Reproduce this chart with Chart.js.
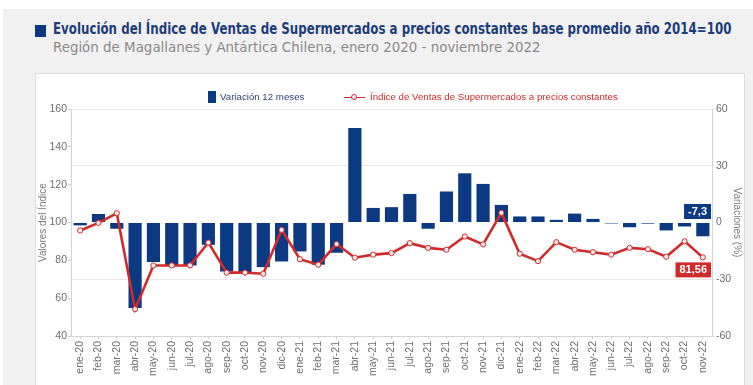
<!DOCTYPE html>
<html>
<head>
<meta charset="utf-8">
<script src="https://cdn.jsdelivr.net/npm/chart.js@4.4.1/dist/chart.umd.min.js"></script>
<style>
  html, body { margin:0; padding:0; }
  body { width:753px; height:385px; background:#fff; position:relative; overflow:hidden; font-family:"DejaVu Sans Condensed", "DejaVu Sans", sans-serif; }
  .page { position:absolute; left:3px; top:9px; right:0; bottom:0; background:#f1f1f1; }
  .bullet { position:absolute; left:35px; top:25px; width:11px; height:12px; background:#0b3a82; }
  .title { position:absolute; left:53px; top:20px; font-size:15px; font-weight:bold; color:#1e3d7b; white-space:nowrap; transform-origin:0 0; }
  .subtitle { position:absolute; left:53px; top:39px; font-size:14.5px; color:#8a8a8a; white-space:nowrap; transform-origin:0 0; }
  .panel { position:absolute; left:35px; top:73px; width:710px; height:330px; background:#fff; border:1px solid #dedede; box-sizing:border-box; }
  #wrap { position:absolute; left:35px; top:73px; width:710px; height:312px; }
  .legend { position:absolute; top:90px; height:14px; font-family:"Liberation Sans", Arial, sans-serif; font-size:9.7px; line-height:14px; white-space:nowrap; }
  .legend .sq { position:absolute; left:0; top:1px; width:8px; height:12px; background:#0b3a82; }
  .legend .ln { position:absolute; left:0; top:6.5px; width:21px; height:1px; background:#d12a2a; }
  .legend .dot { position:absolute; left:7px; top:4px; width:4px; height:4px; border:1px solid #d12a2a; border-radius:50%; background:#fff; }
</style>
</head>
<body>
<div class="page"></div>
<div class="bullet"></div>
<div class="title" id="title">Evolución del Índice de Ventas de Supermercados a precios constantes base promedio año 2014=100</div>
<div class="subtitle" id="subtitle">Región de Magallanes y Antártica Chilena, enero 2020 - noviembre 2022</div>
<div class="panel"></div>
<div id="wrap"><canvas id="chart"></canvas></div>
<div class="legend" style="left:208px"><span class="sq"></span><span style="position:absolute;left:12px;color:#2d4479">Variación 12 meses</span></div>
<div class="legend" style="left:344px"><span class="ln"></span><span class="dot"></span><span style="position:absolute;left:26px;color:#d12a2a">Índice de Ventas de Supermercados a precios constantes</span></div>
<script>
// ====== DATA ======
const meses = ['ene-20','feb-20','mar-20','abr-20','may-20','jun-20','jul-20','ago-20','sep-20','oct-20','nov-20','dic-20',
  'ene-21','feb-21','mar-21','abr-21','may-21','jun-21','jul-21','ago-21','sep-21','oct-21','nov-21','dic-21',
  'ene-22','feb-22','mar-22','abr-22','may-22','jun-22','jul-22','ago-22','sep-22','oct-22','nov-22'];
const variacion12 = [-1.5, 4.5, -3.3, -45.2, -20.9, -22.7, -22.7, -11.8, -25.9, -26.2, -23.6, -20.6,
  -15.3, -22.3, -16.0, 50.0, 7.7, 8.1, 15.1, -3.3, 16.4, 26.0, 20.4, 9.3,
  3.2, 3.2, 1.4, 4.7, 1.9, -0.5, -2.5, -0.6, -4.2, -2.1, -7.3];
const indice = [95.8, 99.8, 104.9, 54.2, 77.3, 77.3, 77.3, 89.4, 73.5, 73.5, 72.9, 96.1,
  80.6, 77.7, 88.6, 81.4, 83.0, 83.8, 89.1, 86.6, 85.6, 92.6, 88.4, 105.1,
  83.5, 79.6, 89.6, 85.6, 84.3, 83.0, 86.6, 85.9, 81.9, 90.1, 81.56];
const ticksIndice = [40, 60, 80, 100, 120, 140, 160];
const ticksVariacion = [-60, -30, 0, 30, 60];

const NAVY = '#0b3a82';
const RED = '#d12a2a';
const TICK = '#6e6e6e';
const FONT = '"Liberation Sans", Arial, sans-serif';

// title & subtitle squeezed to the reference widths
function fitWidth(id, w) {
  const el = document.getElementById(id);
  el.style.transform = 'scaleX(' + (w / el.offsetWidth) + ')';
}
fitWidth('title', 678);
fitWidth('subtitle', 488);

// ====== HELPERS ======
const fmt = v => String(v).replace('.', ',');

function drawBox(ctx, text, right, y, bg) {
  ctx.font = 'bold 11px ' + FONT;
  const w = ctx.measureText(text).width + 8;
  const h = 15;
  ctx.fillStyle = bg;
  ctx.fillRect(right - w, y, w, h);
  ctx.fillStyle = '#fff';
  ctx.textAlign = 'center';
  ctx.textBaseline = 'middle';
  ctx.fillText(text, right - w / 2, y + h / 2 + 0.5);
}

const lastLabels = {
  id: 'lastLabels',
  afterDatasetsDraw(chart) {
    const ctx = chart.ctx;
    const right = chart.chartArea.right - 1;
    const n = meses.length - 1;
    const bar = chart.getDatasetMeta(0).data[n];
    const pt = chart.getDatasetMeta(1).data[n];
    ctx.save();
    drawBox(ctx, fmt(variacion12[n]), right, Math.min(bar.y, bar.base) - 19, NAVY);
    drawBox(ctx, fmt(indice[n]), right, pt.y + 5, RED);
    ctx.restore();
  }
};

// ====== CHART ======
const ctx = document.getElementById('chart').getContext('2d');
new Chart(ctx, {
  data: {
    labels: meses,
    datasets: [{
      type: 'bar',
      label: 'Variación 12 meses',
      data: variacion12,
      yAxisID: 'yVar',
      backgroundColor: NAVY,
      barPercentage: 0.72,
      categoryPercentage: 1,
      order: 2
    }, {
      type: 'line',
      label: 'Índice de Ventas de Supermercados a precios constantes',
      data: indice,
      yAxisID: 'yIdx',
      borderColor: RED,
      borderWidth: 2.6,
      pointRadius: 2.6,
      pointBorderWidth: 1,
      pointBackgroundColor: '#fdeaea',
      pointBorderColor: RED,
      tension: 0,
      order: 1
    }]
  },
  options: {
    responsive: true,
    maintainAspectRatio: false,
    animation: false,
    layout: { padding: { top: 36 } },
    plugins: {
      tooltip: { enabled: false },
      legend: { display: false }
    },
    scales: {
      x: {
        offset: true,
        grid: { display: true, drawOnChartArea: false, offset: false, tickLength: 3, color: '#cfcfcf' },
        border: { color: '#d4d4d4' },
        ticks: { minRotation: 90, maxRotation: 90, autoSkip: false, padding: 2, color: TICK, font: { family: FONT, size: 10.5 } },
        afterFit(s) { s.height = 49; }
      },
      yIdx: {
        position: 'left',
        min: 40, max: 160,
        afterBuildTicks(s) { s.ticks = ticksIndice.map(v => ({ value: v })); },
        grid: { drawOnChartArea: false, tickLength: 3, color: '#cfcfcf' },
        border: { color: '#d4d4d4' },
        ticks: { padding: 1, color: TICK, font: { family: FONT, size: 10.5 } },
        title: { display: true, text: 'Valores del Índice', color: '#7a7a7a', padding: { top: 2, bottom: 0 }, font: { family: FONT, size: 10 } },
        afterFit(s) { s.width = 36; }
      },
      yVar: {
        position: 'right',
        min: -60, max: 60,
        afterBuildTicks(s) { s.ticks = ticksVariacion.map(v => ({ value: v })); },
        grid: {
          tickLength: 3,
          color: c => c.tick && c.tick.value === 0 ? 'rgba(0,0,0,0)' : '#e9e9e9'
        },
        border: { color: '#d4d4d4' },
        ticks: { padding: 1, color: TICK, font: { family: FONT, size: 10.5 } },
        title: { display: true, text: 'Variaciones (%)', color: '#7a7a7a', padding: { top: 2, bottom: 0 }, font: { family: FONT, size: 10 } },
        afterFit(s) { s.width = 33; }
      }
    }
  },
  plugins: [lastLabels]
});
</script>
</body>
</html>
